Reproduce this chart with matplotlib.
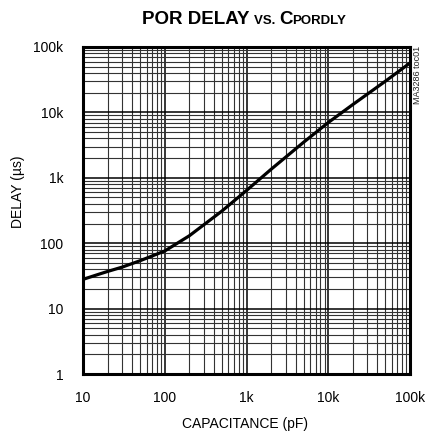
import matplotlib
matplotlib.use("Agg")
import matplotlib.pyplot as plt
from matplotlib.ticker import LogLocator, NullFormatter, FixedLocator, FixedFormatter
from matplotlib.offsetbox import TextArea, HPacker, AnnotationBbox

# data
cap_pf = [10, 15, 20, 30, 50, 100, 200, 500, 1000, 2000, 5000, 10000, 20000, 50000, 100000]
delay_us = [28, 33, 37, 43, 54, 76, 130, 310, 640, 1350, 3500, 7000, 13200, 30000, 57000]

x_ticks = [10, 100, 1000, 10000, 100000]
x_labels = ["10", "100", "1k", "10k", "100k"]
y_ticks = [1, 10, 100, 1000, 10000, 100000]
y_labels = ["1", "10", "100", "1k", "10k", "100k"]

FONT = ["Liberation Sans", "DejaVu Sans"]
plt.rcParams["font.family"] = FONT

fig = plt.figure(figsize=(4.26, 4.34), dpi=100)
ax = fig.add_axes([83 / 426, 1 - 374 / 434, 327 / 426, 327 / 434])

ax.plot(cap_pf, delay_us, color="black", lw=2.3, solid_capstyle="butt", zorder=5)

ax.set_xscale("log")
ax.set_yscale("log")
ax.set_xlim(10, 100000)
ax.set_ylim(1, 100000)

ax.xaxis.set_major_locator(FixedLocator(x_ticks))
ax.xaxis.set_major_formatter(FixedFormatter(x_labels))
ax.yaxis.set_major_locator(FixedLocator(y_ticks))
ax.yaxis.set_major_formatter(FixedFormatter(y_labels))
for axis in (ax.xaxis, ax.yaxis):
    axis.set_minor_locator(LogLocator(base=10, subs=range(2, 10), numticks=20))
    axis.set_minor_formatter(NullFormatter())

ax.grid(which="major", color="black", lw=1.1)
ax.grid(which="minor", color="#333333", lw=0.8)
ax.tick_params(which="both", length=0)
ax.tick_params(axis="x", pad=12, labelsize=10)
ax.tick_params(axis="y", pad=14, labelsize=10)
for s in ax.spines.values():
    s.set_linewidth(2.2)
    s.set_zorder(6)

fig.text(245 / 426, 1 - 424 / 434, "CAPACITANCE (pF)", ha="center", va="center", fontsize=10)
fig.text(18 / 426, 1 - 192 / 434, "DELAY (\u00b5s)", ha="center", va="center",
         rotation=90, fontsize=10)
fig.text(418 / 426, 1 - 46 / 434, "MA3286 toc01", ha="center", va="top",
         rotation=90, fontsize=6.5, color="#222222")

# title with small "vs." and subscript
big = dict(fontsize=13.5, fontweight="bold", family=FONT)
small = dict(fontsize=9.5, fontweight="bold", family=FONT)
parts = [
    TextArea("POR DELAY ", textprops=big),
    TextArea("VS. ", textprops=small),
    TextArea("C", textprops=big),
    TextArea("PORDLY", textprops=small),
]
pack = HPacker(children=parts, align="baseline", pad=0, sep=0)
ab = AnnotationBbox(pack, (244 / 426, 1 - 19 / 434), xycoords="figure fraction",
                    frameon=False, box_alignment=(0.5, 0.5))
fig.add_artist(ab)

fig.savefig("out.png", dpi=100)
